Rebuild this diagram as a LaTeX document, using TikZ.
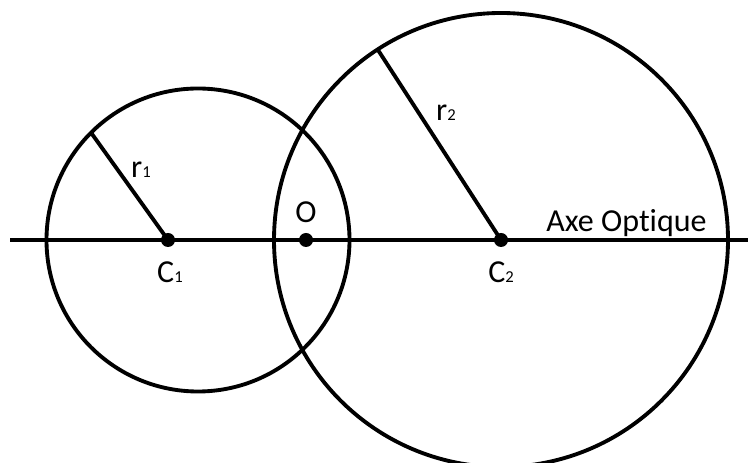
\documentclass[tikz,border=0pt]{standalone}
\usepackage{fontspec}
\setmainfont{Carlito}[Ligatures=NoCommon]
\usepackage{tikz}
\usetikzlibrary{positioning}
\tikzset{
  trait/.style={line width=2.9pt, black},
  point/.style={circle, fill=black, inner sep=0pt, minimum size=10.5pt},
  etiquette/.style={inner sep=0pt, font=\fontsize{24}{28}\selectfont},
}
\newcommand{\indice}[1]{{\fontsize{12.5}{14}\selectfont #1}}

\begin{document}
\begin{tikzpicture}[x=0.75pt, y=0.75pt]
          \useasboundingbox (0,0) rectangle (748,463);
          \clip (0,0) rectangle (748,463);
          % axe et cercles
          \coordinate (gauche) at (10,223);
          \coordinate (droite) at (748,223);
          \draw[trait] (gauche) -- (droite);
          \draw[trait] (198,223) circle (151.5);
          \draw[trait] (501,223) circle (227);
          % centres et sommet
          \node[point] (c1) at (168,223) {};
          \node[point] (o) at (306,223) {};
          \node[point] (c2) at (501,223) {};
          % rayons
          \coordinate (p1) at (92,329);
          \coordinate (p2) at (378,413);
          \draw[trait] (p1) -- (c1.center);
          \draw[trait] (p2) -- (c2.center);
          % etiquettes
          \node[etiquette, below=11pt of c1, xshift=1.5pt] (lc1) {C\indice{1}};
          \node[etiquette, below=11pt of c2] (lc2) {C\indice{2}};
          \node[etiquette, above=7.5pt of o] (lo) {O};
          \node[etiquette] (lr1) at (141,293) {r\indice{1}};
          \node[etiquette] (lr2) at (446,350) {r\indice{2}};
          \node[etiquette, anchor=base] (laxe) at (626.5,231) {Axe Optique};
        \end{tikzpicture}
\end{document}
